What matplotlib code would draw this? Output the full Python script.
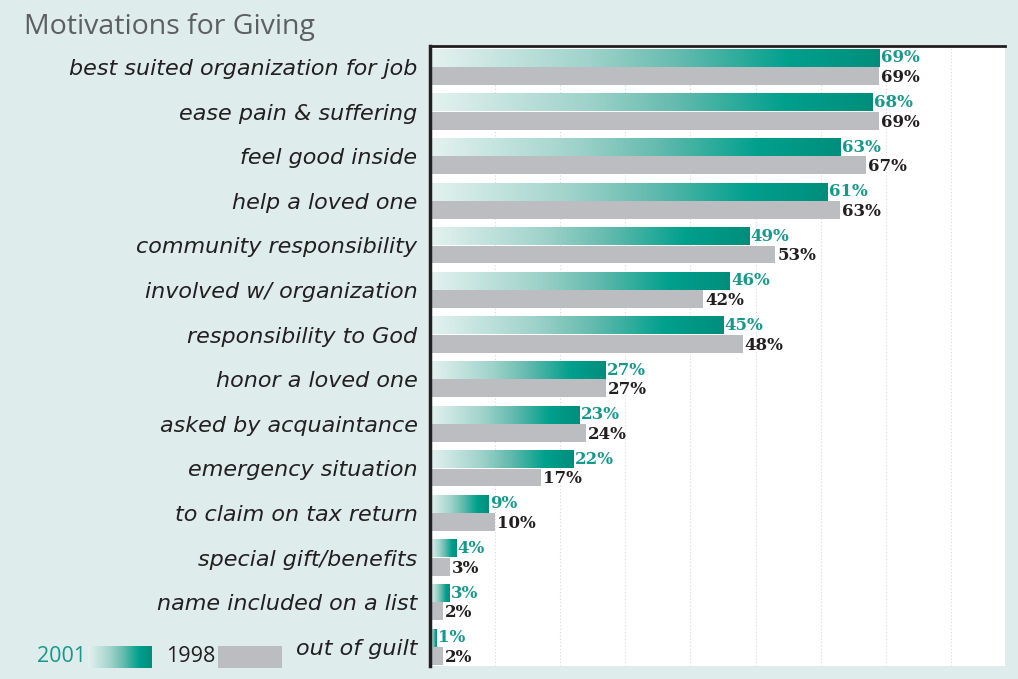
import numpy as np
import matplotlib
matplotlib.use('Agg')
import matplotlib.pyplot as plt
from matplotlib.colors import LinearSegmentedColormap
from matplotlib.patches import Rectangle

# ── data ──
categories = [
    'best suited organization for job',
    'ease pain & suffering',
    'feel good inside',
    'help a loved one',
    'community responsibility',
    'involved w/ organization',
    'responsibility to God',
    'honor a loved one',
    'asked by acquaintance',
    'emergency situation',
    'to claim on tax return',
    'special gift/benefits',
    'name included on a list',
    'out of guilt',
]
pct_2001 = [69, 68, 63, 61, 49, 46, 45, 27, 23, 22, 9, 4, 3, 1]
pct_1998 = [69, 69, 67, 63, 53, 42, 48, 27, 24, 17, 10, 3, 2, 2]

# ── styles ──
BG = '#deeceb'
GREY = '#bcbdc1'
TEAL_TXT = '#16988a'
DARK = '#231f20'
teal_cmap = LinearSegmentedColormap.from_list(
    'teal_grad', [(0, '#e4f2ef'), (0.35, '#a0d3cb'), (0.55, '#66bbaf'),
                  (0.8, '#00a08d'), (1, '#008e7c')])
BAR_H = 0.40
OFF = 0.205

fig = plt.figure(figsize=(10.18, 6.79), dpi=100, facecolor=BG)
ax = fig.add_axes([430 / 1018, 1 - 666 / 679, 575 / 1018, 620 / 679])
ax.set_facecolor('white')

grad = np.linspace(0, 1, 256)[None, :]
rows = np.arange(len(categories))
for i, (a, b) in enumerate(zip(pct_2001, pct_1998)):
    y01 = i - OFF
    ax.imshow(grad, cmap=teal_cmap, aspect='auto', interpolation='bilinear',
              extent=[0, a, y01 + BAR_H / 2, y01 - BAR_H / 2], zorder=2)
    ax.add_patch(Rectangle((0, i + OFF - BAR_H / 2), b, BAR_H,
                           facecolor=GREY, edgecolor='none', zorder=2))
    ax.annotate(f'{a}%', (a, y01), xytext=(1, 0), textcoords='offset points',
                ha='left', va='center', fontsize=12, fontweight='bold',
                family='DejaVu Serif', color=TEAL_TXT, zorder=3)
    ax.annotate(f'{b}%', (b, i + OFF), xytext=(1.5, -1), textcoords='offset points',
                ha='left', va='center', fontsize=12, fontweight='bold',
                family='DejaVu Serif', color=DARK, zorder=3)

ax.set_xlim(0, 88.3)
ax.set_ylim(13.43, -0.47)

# dotted vertical grid
for gx in range(10, 90, 10):
    ax.axvline(gx, color='#d6d7d9', linestyle=(0, (1, 2)), linewidth=0.8, zorder=1)

ax.set_xticks([])
ax.set_yticks(rows)
ax.set_yticklabels(categories, fontsize=16, fontstyle='italic',
                   family='DejaVu Sans', color=DARK)
ax.tick_params(axis='y', length=0, pad=9)

for side in ['right', 'bottom']:
    ax.spines[side].set_visible(False)
ax.spines['left'].set_linewidth(2.5)
ax.spines['left'].set_color(DARK)
ax.spines['top'].set_linewidth(2)
ax.spines['top'].set_color(DARK)

# title
fig.text(24 / 1018, 1 - 27 / 679, 'Motivations for Giving', fontsize=20.5,
         family='Open Sans', color='#5d5e60', ha='left', va='center')

# legend
fig.text(37 / 1018, 1 - 657 / 679, '2001', fontsize=15.5, family='Open Sans',
         color=TEAL_TXT, ha='left', va='center')
lax = fig.add_axes([88 / 1018, 1 - 668 / 679, 64 / 1018, 22 / 679])
lax.imshow(grad, cmap=teal_cmap, aspect='auto', interpolation='bilinear')
lax.axis('off')
fig.text(166 / 1018, 1 - 657 / 679, '1998', fontsize=15.5, family='Open Sans',
         color=DARK, ha='left', va='center')
fig.patches.append(Rectangle((218 / 1018, 1 - 668 / 679), 64 / 1018, 22 / 679,
                             transform=fig.transFigure, facecolor=GREY,
                             edgecolor='none'))

fig.savefig('out.png', dpi=100, facecolor=BG)
